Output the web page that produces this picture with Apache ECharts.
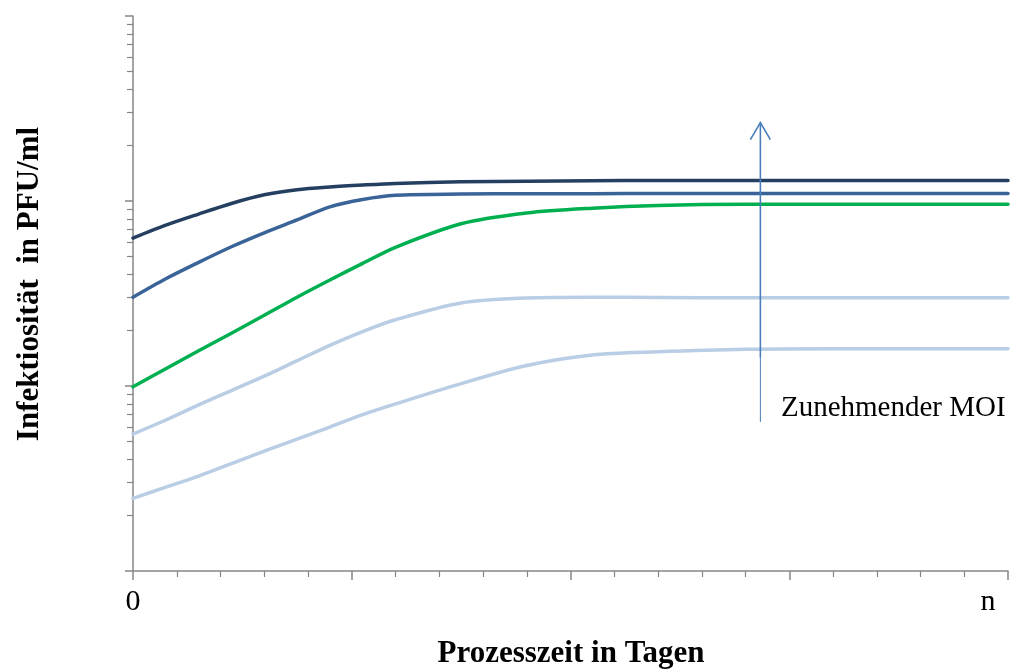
<!DOCTYPE html>
<html>
<head>
<meta charset="utf-8">
<script src="https://cdn.jsdelivr.net/npm/echarts@6/dist/echarts.min.js"></script>
<style>
html,body{margin:0;padding:0;background:#fff;}
#chart{width:1011px;height:671px;}
</style>
</head>
<body>
<div id="chart"></div>
<script>
// Process time (x, 0 .. n mapped onto 0 .. 20)
const days = [0, 0.75, 1.5, 2.25, 3, 3.75, 4.5, 5.25, 6, 7.5, 9, 10.5, 12, 14, 16, 18, 20];
// Infectivity (PFU/ml, log axis, arbitrary units) for increasing MOI
const moi5 = [63, 74, 85, 97, 108, 115, 119, 122, 124.5, 127, 128, 128.8, 129, 129, 129, 129, 129];
const moi4 = [30.2, 38, 46.6, 56.6, 67.3, 79, 93, 102, 107.5, 109, 109.4, 109.6, 109.8, 109.8, 109.8, 109.8, 109.8];
const moi3 = [9.9, 12.4, 15.5, 19.3, 24.1, 30.2, 37.4, 46, 56.2, 75.3, 86.1, 91.4, 94.6, 95.9, 95.9, 95.9, 95.9];
const moi2 = [5.5, 6.55, 7.9, 9.45, 11.3, 13.7, 16.6, 19.7, 22.8, 28.1, 29.9, 30.2, 30.1, 30, 30, 30, 30];
const moi1 = [2.47, 2.84, 3.26, 3.81, 4.44, 5.16, 6.0, 7.0, 8.0, 10.3, 12.9, 14.7, 15.3, 15.8, 15.9, 15.9, 15.9];
const xTickLabels = {0: '0', 20: 'n'};
const yTitle = 'Infektiosität  in PFU/ml';
const xTitle = 'Prozesszeit in Tagen';
const annotation = 'Zunehmender MOI';
// arrow annotation in data units: x, bottom (thin), shaft start, tip
const arrowX = 14.34, arrowThinBottom = 6.39, arrowShaftBottom = 14.2, arrowTip = 265;
const labelPos = [14.81, 7.6];

const serif = '"Liberation Serif", "Times New Roman", serif';
const axisGray = '#868686';

function mk(values, color, z) {
  return {
    type: 'line',
    data: days.map((d, i) => [d, values[i]]),
    smooth: 0.3,
    showSymbol: false,
    z: z,
    lineStyle: {color: color, width: 3.5, cap: 'round', join: 'round'},
    emphasis: {disabled: true}
  };
}

const chart = echarts.init(document.getElementById('chart'), null, {renderer: 'canvas'});
chart.setOption({
  animation: false,
  backgroundColor: '#fff',
  grid: {left: 133, right: 3, top: 16, bottom: 100, containLabel: false},
  xAxis: {
    type: 'value', min: 0, max: 20, interval: 5,
    axisLine: {show: true, lineStyle: {color: axisGray, width: 1.5}},
    axisTick: {show: true, length: 9, lineStyle: {color: axisGray, width: 1.5}},
    minorTick: {show: true, splitNumber: 5, length: 6, lineStyle: {color: axisGray, width: 1.2}},
    splitLine: {show: false},
    axisLabel: {
      margin: 16,
      fontFamily: serif, fontSize: 30, color: '#000',
      formatter: v => v === 20 ? '{n|n}' : (xTickLabels[v] !== undefined ? xTickLabels[v] : ''),
      rich: {n: {fontFamily: serif, fontSize: 30, color: '#000', padding: [0, 40, 0, 0]}}
    }
  },
  yAxis: {
    type: 'log', logBase: 10, min: 1, max: 1000,
    axisLine: {show: true, lineStyle: {color: axisGray, width: 1.5}},
    axisTick: {show: true, length: 8, lineStyle: {color: axisGray, width: 1.5}},
    minorTick: {show: true, splitNumber: 9, length: 6, lineStyle: {color: axisGray, width: 1.2}},
    splitLine: {show: false},
    axisLabel: {show: false}
  },
  series: [
    mk(moi1, '#b9cde5', 2),
    mk(moi2, '#b9cde5', 3),
    mk(moi3, '#00b050', 4),
    mk(moi4, '#3a6498', 5),
    mk(moi5, '#243f60', 6)
  ]
});

const p = (x, y) => chart.convertToPixel({gridIndex: 0}, [x, y]);
const tip = p(arrowX, arrowTip);
const sb = p(arrowX, arrowShaftBottom);
const tb = p(arrowX, arrowThinBottom);
const lp = p(labelPos[0], labelPos[1]);
const arrowColor = '#4a7ebb';
chart.setOption({
  graphic: [
    {type: 'line', z: 10, shape: {x1: tb[0], y1: tb[1], x2: sb[0], y2: sb[1]}, style: {stroke: arrowColor, lineWidth: 1}},
    {type: 'line', z: 10, shape: {x1: sb[0], y1: sb[1], x2: tip[0], y2: tip[1]}, style: {stroke: arrowColor, lineWidth: 1.6}},
    {type: 'polyline', z: 10, shape: {points: [[tip[0] - 10, tip[1] + 17], [tip[0], tip[1]], [tip[0] + 10, tip[1] + 17]]}, style: {stroke: arrowColor, lineWidth: 1.6, fill: null}},
    {type: 'text', z: 10, x: lp[0], y: lp[1], style: {text: annotation, font: '29px ' + serif, fill: '#000', textAlign: 'left', textVerticalAlign: 'middle'}},
    {type: 'text', x: 30, y: 284, rotation: Math.PI / 2, style: {text: yTitle, font: 'bold 31px ' + serif, fill: '#000', textAlign: 'center', textVerticalAlign: 'middle'}},
    {type: 'text', x: 571, y: 654, style: {text: xTitle, font: 'bold 31px ' + serif, fill: '#000', textAlign: 'center', textVerticalAlign: 'middle'}}
  ]
});
</script>
</body>
</html>
